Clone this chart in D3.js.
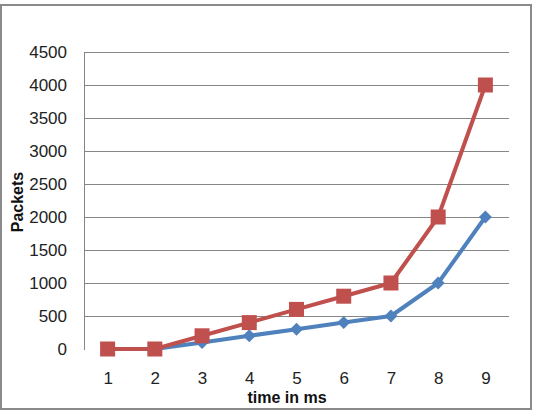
<!DOCTYPE html>
<html><head><meta charset="utf-8">
<script src="https://cdn.jsdelivr.net/npm/d3@7"></script>
<style>body{margin:0;background:#fff}svg{display:block}</style>
</head><body>
<svg id="c" width="533" height="412"></svg>
<script>
const categories = ["1","2","3","4","5","6","7","8","9"];
const blueValues = [0, 0, 100, 200, 300, 400, 500, 1000, 2000];
const redValues = [0, 0, 200, 400, 600, 800, 1000, 2000, 4000];
const yTicks = [0, 500, 1000, 1500, 2000, 2500, 3000, 3500, 4000, 4500];

const svg = d3.select("#c");
const font = "'Liberation Sans', Arial, sans-serif";
const m = {left: 84, right: 509, top: 52, bottom: 349};

svg.append("rect").attr("x", 1).attr("y", 5).attr("width", 530).attr("height", 404)
  .attr("fill", "#fff").attr("stroke", "#8a8a8a").attr("stroke-width", 2);

const x = d3.scalePoint().domain(categories).range([m.left, m.right]).padding(0.5);
const y = d3.scaleLinear().domain([0, 4500]).range([m.bottom, m.top]);

// gridlines
svg.append("g").selectAll("line").data(yTicks.filter(d => d > 0)).join("line")
  .attr("x1", m.left).attr("x2", m.right)
  .attr("y1", d => y(d) + 0.5).attr("y2", d => y(d) + 0.5)
  .attr("stroke", "#868686").attr("stroke-width", 1);

// y axis
const yAxis = svg.append("g").attr("transform", `translate(${m.left},0)`)
  .call(d3.axisLeft(y).tickValues(yTicks).tickSize(0).tickPadding(17).tickFormat(d3.format("d")));
yAxis.select(".domain").attr("stroke", "#868686").attr("d", `M0.5,${m.top}V${m.bottom + 1}`);
yAxis.selectAll("text").attr("font-family", font).attr("font-size", 17).attr("fill", "#222");

// x axis
const xAxis = svg.append("g").attr("transform", `translate(0,${m.bottom})`)
  .call(d3.axisBottom(x).tickSize(0).tickPadding(23));
xAxis.select(".domain").remove();
xAxis.selectAll("text").attr("font-family", font).attr("font-size", 17).attr("fill", "#222");

// axis titles
svg.append("text").attr("x", 287).attr("y", 403).attr("text-anchor", "middle")
  .attr("font-family", font).attr("font-weight", "bold").attr("font-size", 16).attr("fill", "#111")
  .text("time in ms");
svg.append("text").attr("transform", "translate(23,202) rotate(-90)").attr("text-anchor", "middle")
  .attr("font-family", font).attr("font-weight", "bold").attr("font-size", 16).attr("fill", "#111")
  .text("Packets");

const line = d3.line().x((d, i) => x(categories[i])).y(d => y(d));

// blue series
svg.append("path").datum(blueValues).attr("d", line).attr("fill", "none")
  .attr("stroke", "#4F81BD").attr("stroke-width", 4).attr("stroke-linejoin", "round");
svg.append("g").selectAll("path").data(blueValues).join("path")
  .attr("d", d3.symbol(d3.symbolSquare, 84)())
  .attr("transform", (d, i) => `translate(${x(categories[i])},${y(d)}) rotate(45)`)
  .attr("fill", "#4F81BD");

// red series
svg.append("path").datum(redValues).attr("d", line).attr("fill", "none")
  .attr("stroke", "#C0504D").attr("stroke-width", 4).attr("stroke-linejoin", "round");
svg.append("g").selectAll("rect").data(redValues).join("rect")
  .attr("x", (d, i) => x(categories[i]) - 7.5).attr("y", d => y(d) - 7.5)
  .attr("width", 15).attr("height", 15).attr("fill", "#C0504D");
</script>
</body></html>
